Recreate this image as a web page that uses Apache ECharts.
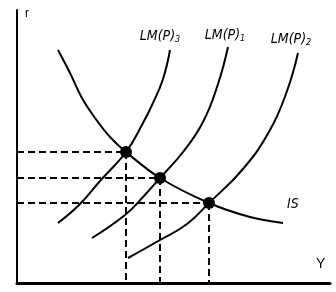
<!DOCTYPE html>
<html><head><meta charset="utf-8">
<script src="https://cdn.jsdelivr.net/npm/echarts@6/dist/echarts.min.js"></script>
<style>html,body{margin:0;padding:0;background:#fff}#c{width:336px;height:292px}</style>
</head><body><div id="c"></div>
<script>
// Curve points (abstract Y, r units)
const isX  = [41, 53, 65, 78, 93, 109, 143, 192, 233, 266];
const isY  = [233, 210, 185, 165, 146, 131, 105, 80, 66, 60];
const lm3X = [41, 63, 83, 109, 126, 136, 146, 153];
const lm3Y = [60, 79, 102, 131, 160, 180, 204, 233];
const lm1X = [75, 108, 126, 143, 166, 186, 201, 211];
const lm1Y = [45, 68, 86, 105, 131, 161, 199, 236];
const lm2X = [111, 143, 170, 192, 226, 253, 270, 281];
const lm2Y = [25, 43, 59, 80, 114, 153, 192, 230];
// Equilibria (LM3, LM1, LM2 with IS)
const eqX = [109, 143, 192];
const eqY = [131, 105, 80];

const zip = (xs, ys) => xs.map((x, i) => [x, ys[i]]);
const chart = echarts.init(document.getElementById('c'), null, {renderer: 'canvas'});
const font = '"Liberation Sans Narrow", "DejaVu Sans Condensed", "Liberation Sans", Arial, sans-serif';
const rich = {
  m: {fontFamily: font, fontStyle: 'italic', fontSize: 14, color: '#000'},
  s: {fontFamily: font, fontStyle: 'italic', fontSize: 9, color: '#000', padding: [7, 0, 0, 0]}
};
function lmSeries(xs, ys, sub, off) {
  return {
    type: 'line', smooth: 0.45, symbol: 'none',
    lineStyle: {color: '#000', width: 2},
    data: zip(xs, ys),
    endLabel: {show: true, formatter: '{m|LM(P)}{s|' + sub + '}', rich, align: 'center', verticalAlign: 'bottom', distance: 0, offset: off},
    silent: true, z: 2
  };
}
const dashStyle = {color: '#000', width: 2, type: [7, 4]};
const dashSeries = [];
eqX.forEach((x, i) => {
  dashSeries.push({type: 'line', symbol: 'none', lineStyle: dashStyle, data: [[0, eqY[i]], [x, eqY[i]]], silent: true, z: 1});
  dashSeries.push({type: 'line', symbol: 'none', lineStyle: dashStyle, data: [[x, eqY[i]], [x, 0]], silent: true, z: 1});
});
chart.setOption({
  animation: false,
  grid: {left: 17, right: 6, top: 10, bottom: 9},
  xAxis: {type: 'value', min: 0, max: 313, axisLine: {onZero: false, lineStyle: {color: '#000', width: 3}},
    axisTick: {show: false}, axisLabel: {show: false}, splitLine: {show: false},
    name: 'Y', nameLocation: 'end', nameGap: -14,
    nameTextStyle: {fontFamily: '"Liberation Sans", Arial, sans-serif', fontSize: 14, color: '#000', verticalAlign: 'bottom', padding: [0, 0, 12, 0]}},
  yAxis: {type: 'value', min: 0, max: 273, axisLine: {onZero: false, lineStyle: {color: '#000', width: 2}},
    axisTick: {show: false}, axisLabel: {show: false}, splitLine: {show: false},
    name: 'r', nameLocation: 'end', nameGap: -10,
    nameTextStyle: {fontFamily: '"Liberation Sans", Arial, sans-serif', fontSize: 12, color: '#000', align: 'left', padding: [0, 0, 0, 8]}},
  series: [
    ...dashSeries,
    {type: 'line', smooth: 0.35, symbol: 'none', lineStyle: {color: '#000', width: 2}, silent: true, z: 2,
      data: zip(isX, isY),
      endLabel: {show: true, formatter: '{m|IS}', rich, align: 'left', verticalAlign: 'bottom', distance: 0, offset: [4, -12]}},
    lmSeries(lm3X, lm3Y, '3', [-10, -6]),
    lmSeries(lm1X, lm1Y, '1', [-3, -4]),
    lmSeries(lm2X, lm2Y, '2', [-7, -6]),
    {type: 'scatter', symbol: 'circle', symbolSize: 12, itemStyle: {color: '#000', opacity: 1}, data: zip(eqX, eqY), silent: true, z: 10, zlevel: 1}
  ]
});
</script></body></html>
